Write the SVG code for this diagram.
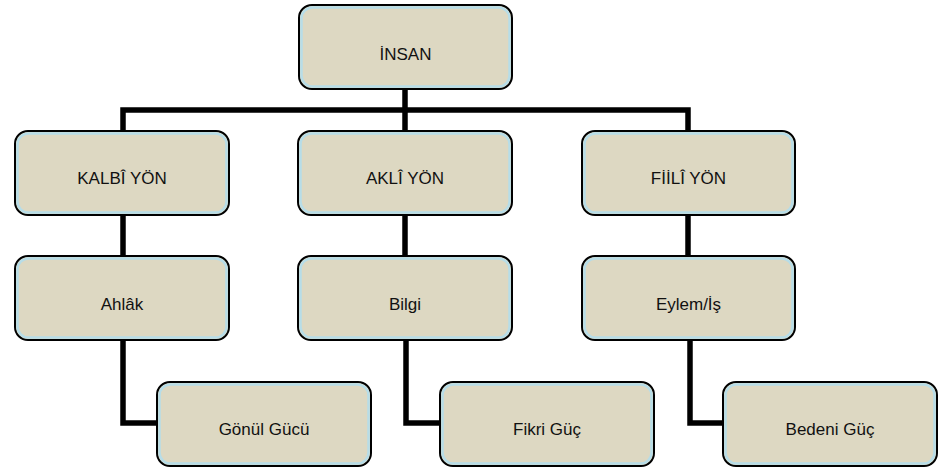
<svg xmlns="http://www.w3.org/2000/svg" width="945" height="468" viewBox="0 0 945 468">
<style>
.box{fill:#DDD8C2;stroke:#000;stroke-width:2}
.inner{fill:none;stroke:#B7DDE8;stroke-width:2.5}
.lbl{font-family:"Liberation Sans",Arial,sans-serif;font-size:17px;fill:#111;text-anchor:middle}
.con{fill:none;stroke:#000;stroke-width:5.5;stroke-linejoin:miter}
</style>
<rect width="945" height="468" fill="#fff"/>
<g id="connectors">
<path class="con" d="M405,89 V110"/>
<path class="con" d="M123,131 V110 H688 V131"/>
<path class="con" d="M405,110 V131"/>
<path class="con" d="M123,215 V256"/>
<path class="con" d="M405,215 V256"/>
<path class="con" d="M688,215 V256"/>
<path class="con" d="M123,340 V423 H157"/>
<path class="con" d="M406,340 V423 H440"/>
<path class="con" d="M690,340 V423 H723"/>
</g>
<g id="insan">
<rect class="box" x="299" y="5" width="213" height="84" rx="13"/>
<rect class="inner" x="301.5" y="7.5" width="208" height="79" rx="11"/>
<text class="lbl" x="405.5" y="60">İNSAN</text>
</g>
<g id="kalbi">
<rect class="box" x="15" y="131" width="214" height="84" rx="13"/>
<rect class="inner" x="17.5" y="133.5" width="209" height="79" rx="11"/>
<text class="lbl" x="122" y="184">KALBÎ YÖN</text>
</g>
<g id="akli">
<rect class="box" x="298" y="131" width="214" height="84" rx="13"/>
<rect class="inner" x="300.5" y="133.5" width="209" height="79" rx="11"/>
<text class="lbl" x="405" y="184">AKLÎ YÖN</text>
</g>
<g id="fiili">
<rect class="box" x="582" y="131" width="213" height="84" rx="13"/>
<rect class="inner" x="584.5" y="133.5" width="208" height="79" rx="11"/>
<text class="lbl" x="688.5" y="184">FİİLÎ YÖN</text>
</g>
<g id="ahlak">
<rect class="box" x="15" y="256" width="214" height="84" rx="13"/>
<rect class="inner" x="17.5" y="258.5" width="209" height="79" rx="11"/>
<text class="lbl" x="122" y="310">Ahlâk</text>
</g>
<g id="bilgi">
<rect class="box" x="298" y="256" width="214" height="84" rx="13"/>
<rect class="inner" x="300.5" y="258.5" width="209" height="79" rx="11"/>
<text class="lbl" x="405" y="310">Bilgi</text>
</g>
<g id="eylem">
<rect class="box" x="582" y="256" width="213" height="84" rx="13"/>
<rect class="inner" x="584.5" y="258.5" width="208" height="79" rx="11"/>
<text class="lbl" x="688.5" y="310">Eylem/İş</text>
</g>
<g id="gonul">
<rect class="box" x="157" y="382" width="214" height="84" rx="13"/>
<rect class="inner" x="159.5" y="384.5" width="209" height="79" rx="11"/>
<text class="lbl" x="264" y="435">Gönül Gücü</text>
</g>
<g id="fikri">
<rect class="box" x="440" y="382" width="214" height="84" rx="13"/>
<rect class="inner" x="442.5" y="384.5" width="209" height="79" rx="11"/>
<text class="lbl" x="547" y="435">Fikri Güç</text>
</g>
<g id="bedeni">
<rect class="box" x="723" y="382" width="214" height="84" rx="13"/>
<rect class="inner" x="725.5" y="384.5" width="209" height="79" rx="11"/>
<text class="lbl" x="830" y="435">Bedeni Güç</text>
</g>
</svg>
